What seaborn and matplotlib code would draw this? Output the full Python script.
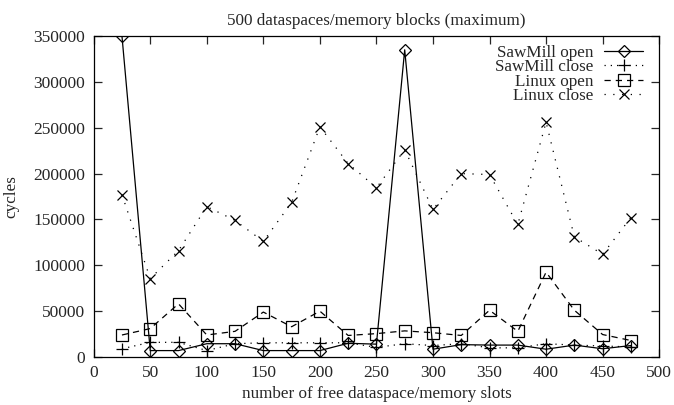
import matplotlib
matplotlib.use("Agg")
import matplotlib.pyplot as plt
import numpy as np
import pandas as pd
import seaborn as sns

# %%
slots = [25, 50, 75, 100, 125, 150, 175, 200, 225, 250,
         275, 300, 325, 350, 375, 400, 425, 450, 475]
sawmill_open = [350000, 7000, 7000, 14500, 14500, 7000, 7000, 7000, 15000, 14000,
                335000, 8500, 13500, 13000, 13000, 8500, 13000, 9000, 12500]
sawmill_close = [9000, 16000, 16000, 7000, 14500, 15500, 15500, 15500, 15500, 10500,
                 14500, 12500, 14500, 10000, 10000, 14500, 13000, 12000, 11000]
linux_open = [24000, 31000, 58000, 24000, 28000, 49000, 33000, 50000, 23500, 25500,
              28500, 26500, 23500, 51000, 28000, 92500, 51000, 24500, 18000]
linux_close = [177000, 85500, 116000, 164000, 149000, 126000, 168500, 251000, 211000, 184500,
               226000, 161000, 200000, 199000, 144500, 256000, 131000, 112000, 152000]
series_names = ["SawMill open", "SawMill close", "Linux open", "Linux close"]

# per-series style: marker, marker size, dash pattern (None = solid)
styles = {
    "SawMill open": ("D", 6, None),
    "SawMill close": ("+", 9, (1, 4)),
    "Linux open": ("s", 8, (5, 4)),
    "Linux close": ("x", 7.5, (1, 6)),
}

# %%
def plot_max_cycles():
    sns.set_style("ticks")
    plt.rcParams["font.family"] = ["Liberation Serif", "DejaVu Serif"]

    fig, ax = plt.subplots(figsize=(6.74, 4.05), dpi=100)
    fig.subplots_adjust(left=0.139, right=0.978, top=0.911, bottom=0.1185)

    data = [sawmill_open, sawmill_close, linux_open, linux_close]
    for name, vals in zip(series_names, data):
        marker, ms, dash = styles[name]
        sns.lineplot(x=slots, y=vals, color="black", ax=ax, label=name,
                     marker=marker, markersize=ms, markeredgecolor="black",
                     markerfacecolor="none", markeredgewidth=0.9, linewidth=0.9)
        line = ax.lines[-1]
        if dash is not None:
            line.set_dashes(dash)

    ax.set_xlim(0, 500)
    ax.set_ylim(0, 350000)
    ax.set_xticks(np.arange(0, 501, 50))
    ax.set_yticks(np.arange(0, 350001, 50000))
    ax.tick_params(direction="in", length=6, width=0.9, top=True, right=True,
                   labelsize=12.5, pad=6)
    for sp in ax.spines.values():
        sp.set_linewidth(0.9)
        sp.set_color("black")

    ax.set_title("500 dataspaces/memory blocks (maximum)", fontsize=12.3, pad=8)
    ax.set_xlabel("number of free dataspace/memory slots", fontsize=12.3, labelpad=3)
    ax.set_ylabel("cycles", fontsize=12.3, labelpad=10)

    ax.legend(handles=ax.lines[:4], labels=series_names, loc="upper right",
              bbox_to_anchor=(0.978, 0.983), markerfirst=False, frameon=False,
              fontsize=12.3, handlelength=2.3, labelspacing=-0.1,
              handletextpad=0.6, borderaxespad=0, borderpad=0.2)

    fig.savefig("out.png", dpi=100)


plot_max_cycles()
